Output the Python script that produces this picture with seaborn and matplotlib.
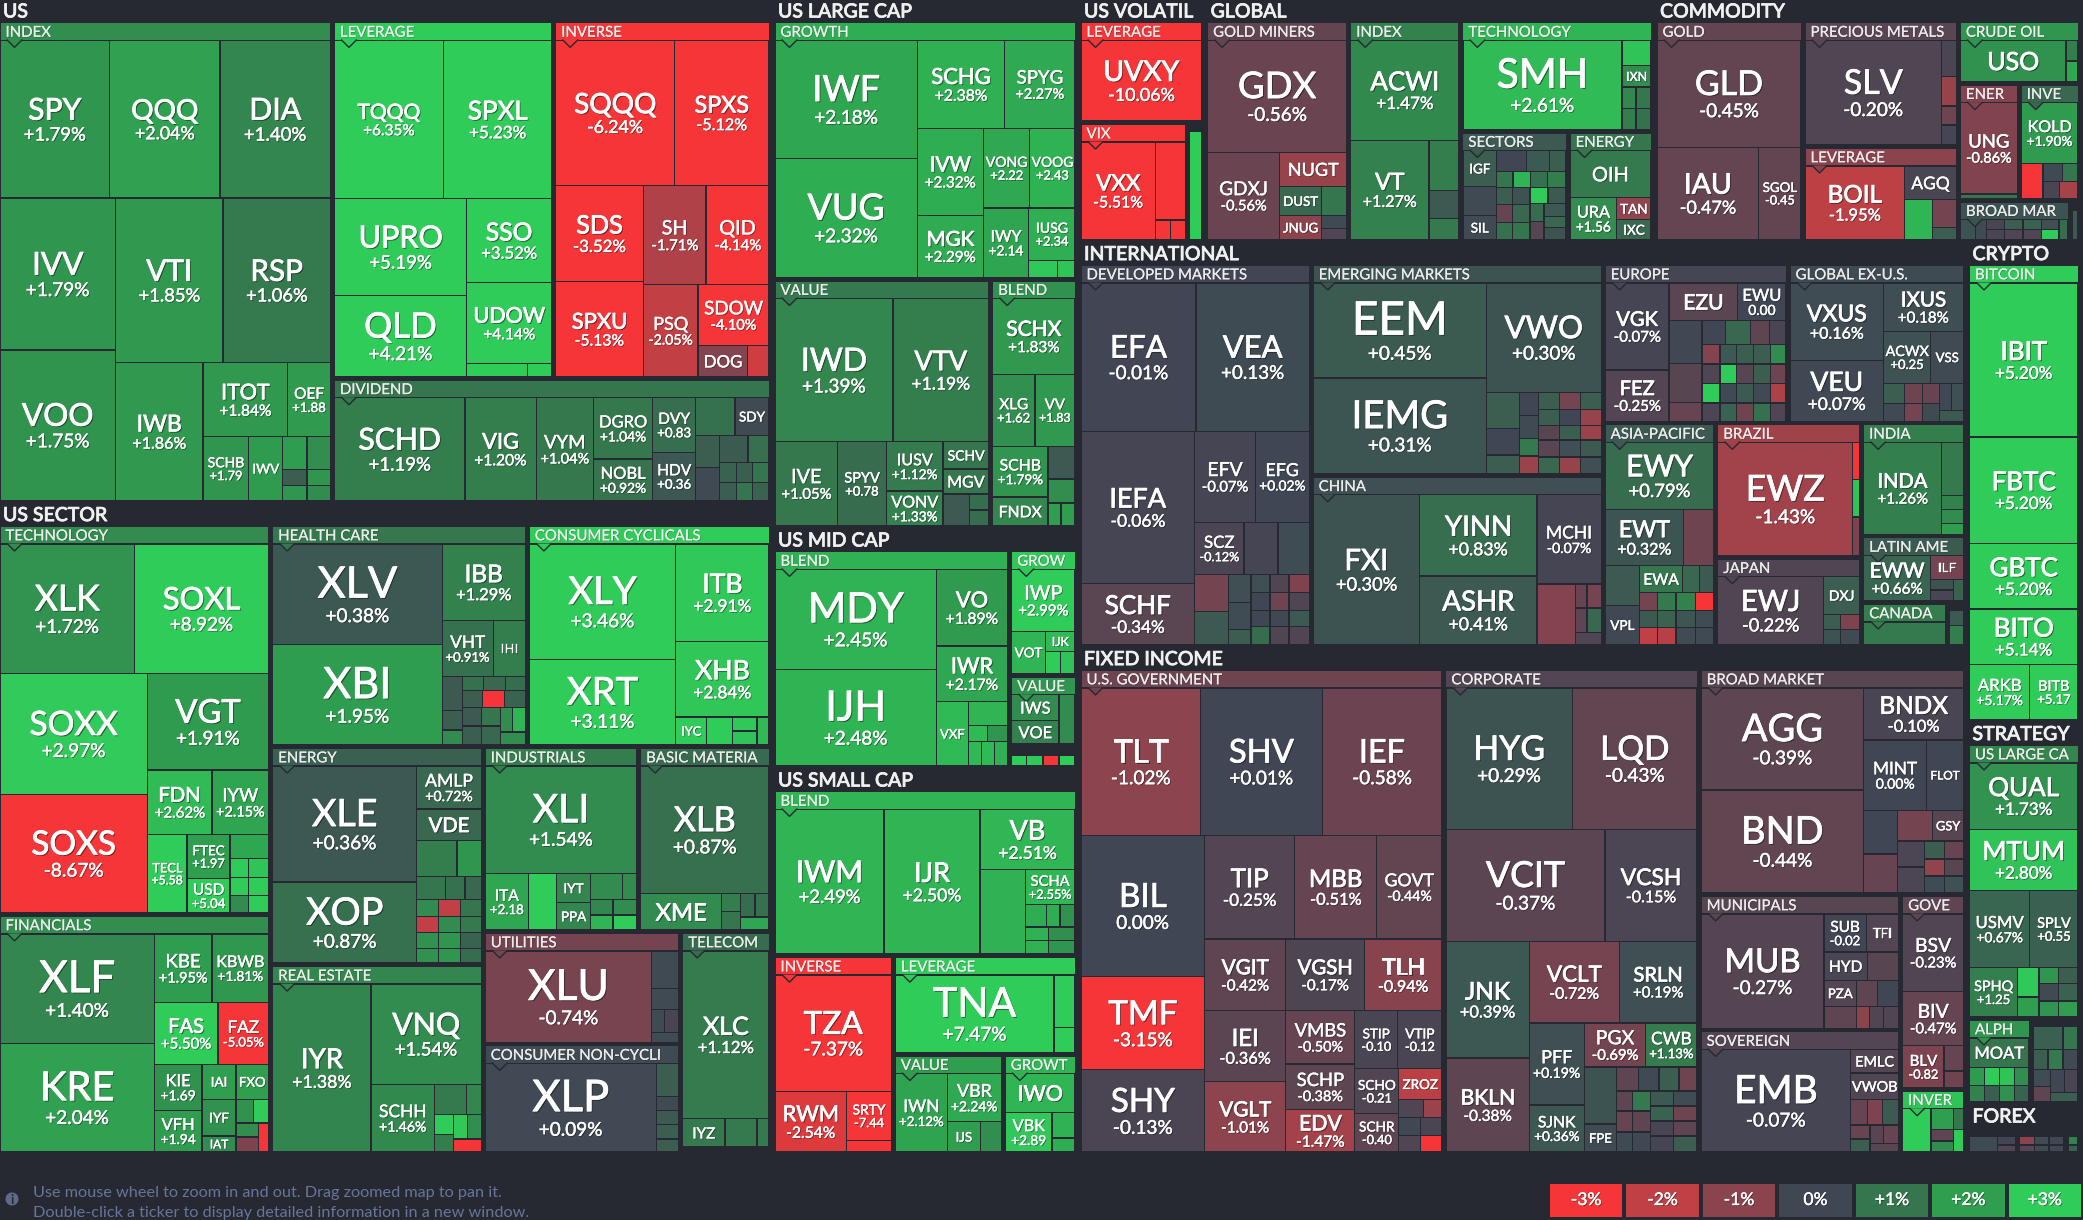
import numpy as np
import matplotlib
matplotlib.use("Agg")
import matplotlib.pyplot as plt
import matplotlib.patheffects as pe
from matplotlib.patches import Rectangle, Circle
import seaborn as sns


def H(size, *kids):
    return ("H", size, kids)


def V(size, *kids):
    return ("V", size, kids)


def G(size, title, avg, child):
    return ("G", size, title, avg, child)


def S(size, title, child):
    return ("S", size, title, child)


def cells(size, sizes, pcts):
    return H(size, *[("", s, p) for s, p in zip(sizes, pcts)])


LEGEND_VALUES = [-3, -2, -1, 0, 1, 2, 3]
LEGEND_LABELS = ["-3%", "-2%", "-1%", "0%", "+1%", "+2%", "+3%"]
LEGEND_COLORS = ["#f63538", "#bf4045", "#8b444e", "#414554", "#35764e", "#2f9e4f", "#30cc5a"]

# ---- US
US_INDEX = G(334, "INDEX", 1.6, V(0,
    H(158, ("SPY", 110, 1.79), ("QQQ", 111, 2.04), ("DIA", 111, 1.40)),
    H(303, V(116, ("IVV", 152, 1.79), ("VOO", 151, 1.75)),
        V(216, H(165, ("VTI", 108, 1.85), ("RSP", 108, 1.06)),
            H(138, ("IWB", 88, 1.86), V(128,
                H(74, ("ITOT", 85, 1.84), ("OEF", 43, 1.88)),
                H(64, ("SCHB", 46, 1.79), ("IWV", 34, 1.9), V(48,
                    cells(33, [24, 23], [1.95, 1.6]),
                    cells(16, [24, 23], [0.5, 1.8]),
                    cells(15, [24, 23], [1.8, 1.5])))))))))
US_LEVERAGE = G(221, "LEVERAGE", 3.5, V(0,
    H(158, ("TQQQ", 109, 6.35), ("SPXL", 108, 5.23)),
    H(178, V(132, ("UPRO", 97, 5.19), ("QLD", 81, 4.21)),
        V(85, ("SSO", 84, 3.52), ("UDOW", 81, 4.14), cells(13, [60, 24], [3.2, 3.1])))))
US_INVERSE = G(217, "INVERSE", -3.5, V(0,
    H(145, ("SQQQ", 118, -6.24), ("SPXS", 94, -5.12)),
    H(191, V(87, ("SDS", 96, -3.52), ("SPXU", 95, -5.13)),
        V(125, H(99, ("SH", 63, -1.71), ("QID", 63, -4.14)),
            H(92, ("PSQ", 55, -2.05), V(71, ("SDOW", 61, -4.10),
                H(31, ("DOG", 49, -0.9), ("", 21, -2.3))))))))
US_DIVIDEND = G(123, "DIVIDEND", 1.0, H(0,
    ("SCHD", 130, 1.19), ("VIG", 71, 1.20), ("VYM", 57, 1.04),
    V(59, ("DGRO", 62, 1.04), ("NOBL", 42, 0.92)),
    V(43, ("DVY", 55, 0.83), ("HDV", 49, 0.36)),
    V(73, H(38, ("", 39, 0.9), ("SDY", 34, 0.1)),
        H(66, V(24, ("", 32, 0.5), ("", 33, 0.1)),
            V(49, cells(27, [28, 21], [0.45, 0.85]),
                cells(20, [16, 16, 16], [0.6, 0.5, 1.0]),
                cells(18, [16, 16, 16], [0.5, 1.0, 0.6]))))))

# ---- US SECTOR
SEC_TECH = G(388, "TECHNOLOGY", 1.5, V(0,
    H(129, ("XLK", 135, 1.72), ("SOXL", 135, 8.92)),
    H(238, V(148, ("SOXX", 120, 2.97), ("SOXS", 118, -8.67)),
        V(122, ("VGT", 96, 1.91), H(64, ("FDN", 65, 2.62), ("IYW", 57, 2.15)),
            H(78, ("TECL", 40, 5.58), V(43, ("FTEC", 44, 1.97), ("USD", 34, 5.04)),
                V(39, ("", 24, 2.2), cells(19, [19, 20], [3.0, 2.8]),
                    cells(18, [19, 20], [3.5, 3.0]), cells(17, [19, 20], [1.5, 3.0])))))))
SEC_FIN = G(238, "FINANCIALS", 1.6, H(0,
    V(155, ("XLF", 110, 1.40), ("KRE", 109, 2.04)),
    V(115, H(69, ("KBE", 58, 1.95), ("KBWB", 57, 1.81)),
        H(62, ("FAS", 64, 5.50), ("FAZ", 51, -5.05)),
        H(88, V(48, ("KIE", 46, 1.69), ("VFH", 42, 1.94)),
            V(67, H(35, ("IAI", 34, 2.0), ("FXO", 33, 2.0)),
                H(53, V(34, ("IYF", 37, 1.7), ("IAT", 16, 1.5)),
                    V(33, cells(24, [18, 15], [1.7, 3.0]),
                        H(29, V(23, ("", 14, 1.6), ("", 15, -0.8)), ("", 10, -3.0)))))))))
SEC_HEALTH = G(256, "HEALTH CARE", 1.05, H(0,
    V(169, ("XLV", 100, 0.38), ("XBI", 100, 1.95)),
    V(83, ("IBB", 76, 1.29), H(55, ("VHT", 51, 0.91), ("IHI", 32, 1.2)),
        H(68, V(20, ("", 34, 0.4), ("", 19, 0.5), ("", 15, 1.5)),
            V(63, cells(14, [21, 22, 20], [0.9, 0.7, 0.8]),
                cells(17, [20, 22, 21], [0.5, -3.0, 0.6]),
                H(37, V(38, cells(18, [19, 19], [0.4, 1.0]), cells(19, [19, 19], [0.5, 0.7])),
                    V(25, cells(24, [12, 13], [1.5, 2.5]), ("", 13, 1.6))))))))
SEC_CONS = G(243, "CONSUMER CYCLICALS", 3.0, H(0,
    V(146, ("XLY", 115, 3.46), ("XRT", 85, 3.11)),
    V(93, ("ITB", 97, 2.91), ("XHB", 75, 2.84),
        H(28, ("IYC", 31, 3.0), ("", 26, 3.0), V(25, ("", 14, 2.9), ("", 14, 2.8)), ("", 12, 2.6)))))
SEC_ENERGY = G(217, "ENERGY", 0.55, H(0,
    V(145, ("XLE", 116, 0.36), ("XOP", 81, 0.87)),
    V(65, ("AMLP", 43, 0.72), ("VDE", 32, 0.7),
        cells(36, [40, 24], [1.2, 1.8]), cells(23, [28, 19, 16], [1.0, 0.9, 0.7]),
        cells(17, [22, 22, 21], [1.5, -2.0, 1.0]), cells(16, [22, 22, 21], [-2.0, 1.5, 1.1]),
        cells(16, [22, 22, 21], [1.7, 1.8, 0.6]), cells(15, [22, 22, 21], [1.7, 1.8, 0.8]))))
SEC_REAL = G(188, "REAL ESTATE", 1.4, H(0,
    ("IYR", 99, 1.38),
    V(111, ("VNQ", 99, 1.54), H(67, ("SCHH", 64, 1.46), V(47,
        cells(30, [32, 15], [1.1, 1.4]),
        H(37, V(19, ("", 20, 3.0), ("", 17, 1.2)),
            V(28, cells(24, [12, 12], [2.9, 1.6]), ("", 13, -3.0))))))))
SEC_INDUSTRIALS = G(155, "INDUSTRIALS", 1.2, V(0,
    ("XLI", 107, 1.54),
    H(56, ("ITA", 43, 2.18), ("", 28, 3.5),
        V(34, ("IYT", 29, 1.4), ("PPA", 27, 1.4)),
        V(46, cells(26, [32, 14], [1.5, 1.5]), cells(15, [22, 23], [1.4, 1.5]), cells(15, [22, 23], [2.5, 3.0])))))
SEC_BASIC = G(132, "BASIC MATERIA", 0.75, V(0,
    ("XLB", 127, 0.87),
    H(36, ("XME", 80, 1.5), V(19, ("", 18, 1.2), ("", 18, 1.0)),
        V(28, cells(23, [14, 14], [0.8, 0.9]), ("", 13, 2.2)))))
SEC_UTIL = G(112, "UTILITIES", -0.7, H(0,
    ("XLU", 165, -0.74),
    V(27, ("", 37, 0.1), ("", 21, 0.1), cells(23, [13, 14], [0.1, -0.1]), ("", 10, 0.15))))
SEC_NONCYC = G(109, "CONSUMER NON-CYCLI", 0.1, H(0,
    ("XLP", 168, 0.09),
    V(22, ("", 33, 0.5), ("", 14, 0.1), ("", 14, 0.4), ("", 15, 0.5), ("", 13, 0.5))))
SEC_TELECOM = G(90, "TELECOM", 0.8, V(0,
    ("XLC", 167, 1.12),
    H(28, ("IYZ", 42, 1.1), ("", 32, 1.1), ("", 12, 1.1)),
    ("", 5, None)))

# ---- LARGE / MID / SMALL CAP
LC_GROWTH = G(257.6, "GROWTH", 2.3, H(0,
    V(142, ("IWF", 118, 2.18), ("VUG", 119, 2.32)),
    V(157.6, H(88, ("SCHG", 87, 2.38), ("SPYG", 70, 2.27)),
        H(149, V(66, ("IVW", 87, 2.32), ("MGK", 62, 2.29)),
            V(91, H(79.5, ("VONG", 46, 2.22), ("VOOG", 45, 2.43)),
                H(69.5, ("IWY", 45, 2.14), V(46, ("IUSG", 52, 2.34), cells(17, [28, 17], [2.9, 2.8]))))))))
LC_VALUE = G(214.5, "VALUE", 1.1, V(0,
    H(143.5, ("IWD", 117, 1.39), ("VTV", 95, 1.19)),
    H(84.5, ("IVE", 62, 1.05), ("SPYV", 48, 0.78),
        V(56, ("IUSV", 49.5, 1.12), ("VONV", 35, 1.33)),
        V(45, ("SCHV", 27.5, 1.0), ("MGV", 25, 1.0),
            H(32, ("", 26, 0.4), V(19, ("", 16, 0.8), ("", 16, 0.8)))))))
LC_BLEND = G(85, "BLEND", 1.7, V(0,
    ("SCHX", 76, 1.83), H(72, ("XLG", 42, 1.62), ("VV", 40, 1.83)),
    H(80, V(55, ("SCHB", 51, 1.79), ("FNDX", 29, 1.4)),
        V(27, ("", 33, 0.4), ("", 24, 1.6), cells(23, [13, 14], [2.0, 2.0])))))
MC_BLEND = G(236, "BLEND", 2.4, H(0,
    V(160, ("MDY", 99, 2.45), ("IJH", 96, 2.48)),
    V(71, ("VO", 76, 1.89), ("IWR", 55, 2.17),
        H(64, ("VXF", 32, 2.6), V(39, ("", 24, 2.5),
            cells(16, [19, 20], [2.6, 1.8]), cells(24, [13, 13, 13], [2.6, 2.6, 2.4]))))))
MC_GROW = G(125, "GROW", 2.9, V(0,
    ("IWP", 61.6, 2.99),
    H(42.4, ("VOT", 34, 2.5), V(30, ("IJK", 20.4, 2.6), cells(22, [15, 15], [3.0, 2.8])))))
MC_VALUE = G(70, "VALUE", 1.8, H(0,
    V(47, ("IWS", 26, 1.5), ("VOE", 23.5, 1.3)), ("", 16, 1.5)))
MC_OTHER = G(22, None, 0, V(0, ("", 8, None), cells(12, [14, 15, 15, 15], [3.0, 2.9, -3.0, 3.0])))
SC_BLEND = G(165, "BLEND", 2.5, H(0,
    ("IWM", 109, 2.49), ("IJR", 96, 2.50),
    V(95, ("VB", 60, 2.51), H(84.5, ("", 45, 2.4), V(49,
        ("SCHA", 35, 2.55), cells(22.5, [21, 14, 15], [2.3, 2.3, 1.7]),
        cells(13.5, [23, 26], [2.4, 1.6]), cells(13.5, [23, 26], [2.4, 1.8]))))))
SC_INVERSE = G(120, "INVERSE", -5.0, V(0,
    ("TZA", 116, -7.37),
    H(60.6, ("RWM", 72, -2.54), V(45, ("SRTY", 49, -7.44), ("", 11.6, -4.0)))))
SC_LEVERAGE = G(98, "LEVERAGE", 6.0, H(0,
    ("TNA", 158, 7.47), V(21, ("", 54, 3.2), ("", 25.5, 3.0))))
SC_VALUE = G(109, "VALUE", 2.0, H(0,
    ("IWN", 52, 2.12), V(54, ("VBR", 47, 2.24), H(29.6, ("IJS", 33, 2.0), ("", 21, 1.6)))))
SC_GROWTH = G(73, "GROWT", 2.5, V(0,
    ("IWO", 38, 2.5), H(38.6, ("VBK", 47, 2.89), V(23, ("", 25, 2.4), ("", 13.6, 2.3)))))

# ---- VOLATILITY / GLOBAL / COMMODITY
VOL_LEV = G(102, "LEVERAGE", -8.0, ("UVXY", 1, -10.06))
VOL_VIX = G(106, "VIX", -5.0, H(0,
    ("VXX", 75, -5.51), V(30, ("", 76.5, -5.0), cells(19.2, [15, 15], [-5.0, -5.0]))))
VOL_BAR = G(16, None, 0, V(0, ("", 6, None), ("", 108, 3.0)))
GL_MINERS = G(143, "GOLD MINERS", -0.45, V(0,
    ("GDX", 111, -0.56),
    H(86.7, ("GDXJ", 72, -0.56), V(67, ("NUGT", 34, -1.2),
        H(29, ("DUST", 42, 0.7), ("", 25, 1.0)),
        H(23.7, ("JNUG", 42, -1.0), V(25, ("", 13, 0.1), ("", 11, -0.2)))))))
GL_INDEX = G(112, "INDEX", 1.3, V(0,
    ("ACWI", 99, 1.47),
    H(98.7, ("VT", 78, 1.27), V(30, ("", 50, 1.2), ("", 28, 0.4), ("", 21, 1.1)))))
GL_TECH = G(110, "TECHNOLOGY", 2.5, H(0,
    ("SMH", 158, 2.61),
    V(29, ("", 25, 2.8), ("IXN", 21, 1.5), cells(21, [14, 15], [1.4, 1.0]), cells(21, [14, 15], [1.2, 0.9]))))
GL_SECTORS = G(106, "SECTORS", 0.4, H(0,
    V(34, ("IGF", 36, 0.5), ("", 29, 0.1), ("SIL", 23.7, 0.1)),
    V(70, cells(21, [30, 23, 17], [0.0, 0.4, 0.5]),
        cells(16, [16, 17, 17, 18], [1.0, 2.5, 0.9, 1.2]),
        H(51.7, V(33, cells(17, [16, 17], [0.5, 0.3]), cells(18, [16, 17], [-0.5, 0.7]), cells(16.7, [16, 17], [0.9, 1.0])),
            V(36, cells(16, [18, 18], [3.0, 0.4]),
                H(35.7, V(14, ("", 18, 0.8), ("", 17.7, -0.3)),
                    V(22, ("", 13, 0.4), ("", 11, 0.7), ("", 11.7, 0.3))))))))
GL_ENERGY = G(84, "ENERGY", 1.0, V(0,
    ("OIH", 47, 1.1),
    H(41.7, ("URA", 45, 1.56), V(33, ("TAN", 22, -1.1), ("IXC", 19.7, 0.7)))))
CO_GOLD = G(148.5, "GOLD", -0.45, V(0,
    ("GLD", 106, -0.45), H(91.7, ("IAU", 101, -0.47), ("SGOL", 42, -0.45))))
CO_PM = G(126, "PRECIOUS METALS", -0.35, H(0,
    ("SLV", 137, -0.20),
    V(15, ("", 36, -0.1), ("", 30, -1.2), ("", 19, -0.6), ("", 20, -0.05))))
CO_LEV = G(95, "LEVERAGE", -1.0, H(0,
    ("BOIL", 100, -1.95),
    V(52, ("AGQ", 33, -0.1), H(38.7, ("", 28, 2.5), V(24, ("", 27, -0.7), ("", 11.7, 0.5))))))
CO_CRUDE = G(62.3, "CRUDE OIL", 1.8, H(0, ("USO", 105, 1.7), V(12, ("", 21, 1.2), ("", 21, 2.2))))
CO_ENER = G(60, "ENER", -0.9, V(0, ("UNG", 91.5, -0.86), ("", 4.5, 1.0)))
CO_INVE = G(60, "INVE", 0.7, V(0,
    ("KOLD", 61, 1.90),
    H(35, ("", 21, -3.0), V(34, cells(18, [19, 15], [0.1, 1.0]), cells(17, [16, 18], [-0.1, -1.5])))))
CO_BROAD = G(112, "BROAD MAR", 0.3, H(0,
    ("", 15, 0.3), ("", 11, 0.1),
    V(71, cells(9, [17, 18, 18, 17], [-0.1, 0.5, 0.6, 0.2]), cells(9, [17, 18, 18, 17], [-0.1, -0.2, -0.2, 3.0])),
    ("", 9, 0.8)))
CO_STRIP = G(10, None, 0, V(0, ("", 8, None), ("", 31, 0.4)))

# ---- INTERNATIONAL
IN_DEV = G(232, "DEVELOPED MARKETS", -0.02, V(0,
    H(148, ("EFA", 115, -0.01), ("VEA", 113, 0.13)),
    H(213, V(114, ("IEFA", 152, -0.06), ("SCHF", 61, -0.34)),
        V(115, H(91, ("EFV", 61, -0.07), ("EFG", 54, 0.02)),
            H(52, ("SCZ", 49, -0.12), ("", 34, -0.05), ("", 31, 0.15)),
            H(70, V(34, ("", 37, -0.7), ("", 33, 0.4)),
                V(22, ("", 28, 0.2), ("", 27, 0.15), ("", 15, 0.5)),
                V(58, cells(18, [19, 19, 20], [0.2, -0.2, -0.8]),
                    cells(18, [19, 19, 20], [0.0, -0.6, -0.2]),
                    cells(16, [19, 19, 20], [0.0, 0.05, 0.4]),
                    cells(18, [19, 19, 20], [0.8, -0.2, -0.2])))))))
IN_EM = G(212, "EMERGING MARKETS", 0.3, H(0,
    V(173, ("EEM", 94, 0.45), ("IEMG", 94.7, 0.31)),
    V(114.5, ("VWO", 108, 0.30),
        H(80.7, V(33, ("", 36, 0.5), ("", 26, 0.0), ("", 18.7, 0.5)),
            V(19, ("", 22, 0.0), ("", 22, 0.1), ("", 17, 1.1), ("", 17, -1.3)),
            V(62, cells(16, [19, 20, 19], [0.5, -0.7, 0.5]),
                cells(15, [19, 20, 19], [0.5, 0.0, -1.2]),
                cells(14, [19, 20, 19], [-0.3, 0.5, -1.3]),
                cells(16, [19, 20, 19], [-0.35, 0.2, 0.4]),
                cells(15.7, [19, 20, 19], [0.7, -1.2, 0.2]))))))
IN_CHINA = G(171, "CHINA", 0.2, H(0,
    ("FXI", 106, 0.30),
    V(117, ("YINN", 82, 0.83), ("ASHR", 69, 0.41)),
    V(64, ("MCHI", 90, -0.07),
        H(61, ("", 37, -0.9), V(25, cells(24, [11, 13], [-0.5, -0.7]), cells(25, [11, 13], [-0.4, 0.7]), ("", 12, -0.2))))))
IN_EUROPE = G(184.5, "EUROPE", -0.05, H(0,
    V(64, ("VGK", 86.7, -0.07), ("FEZ", 51, -0.25)),
    V(117, H(37.5, ("EZU", 68, -0.35), ("EWU", 48, 0.00)),
        H(100.2, V(33, ("", 42.5, 0.05), ("", 39, -0.3), ("", 18.7, -0.5)),
            V(84, cells(23.5, [23, 24, 19, 16], [0.0, 0.7, -0.4, -0.1]),
                cells(19, [17, 16, 16, 16, 15], [-0.9, 0.4, 0.5, 0.5, 1.5]),
                cells(19, [17, 16, 16, 16, 15], [-0.2, 3.0, -0.3, 0.5, -0.6]),
                cells(19, [17, 16, 16, 16, 15], [3.0, 0.1, 0.4, 0.1, -1.6]),
                cells(18, [17, 16, 16, 16, 15], [-0.15, 0.6, -0.6, 0.9, -0.2]))))))
IN_GLOBAL = G(177, "GLOBAL EX-U.S.", 0.12, H(0,
    V(93, ("VXUS", 77, 0.16), ("VEU", 60.7, 0.07)),
    V(80, ("IXUS", 48, 0.18), H(52, ("ACWX", 48, 0.25), ("VSS", 33, 0.1)),
        H(37.7, V(21, ("", 20, 0.5), ("", 17.7, 0.1)), V(18, ("", 20, -0.6), ("", 17.7, -0.7)),
            V(17, ("", 20, -0.5), ("", 17.7, 0.1)),
            V(24, cells(27, [12, 12], [0.05, 0.2]), ("", 10.7, 0.4))))))
IN_ASIA = G(112.3, "ASIA-PACIFIC", 0.4, V(0,
    ("EWY", 67, 0.79),
    H(56, ("EWT", 78, 0.32), ("", 30, -0.6)),
    H(79, V(34, ("", 40, 0.4), ("VPL", 39, 0.05)),
        V(74, H(27, ("EWA", 43, 1.0), ("", 17, 0.7), ("", 14, 0.4)),
            cells(18, [18, 18, 19, 18], [-0.7, 1.1, 1.3, -3.0]),
            cells(17, [18, 18, 19, 18], [0.4, 0.6, 0.35, 0.15]),
            cells(17, [18, 18, 19, 18], [-2.0, -1.8, 0.15, 0.1])))))
IN_BRAZIL = G(133, "BRAZIL", -1.4, H(0,
    ("EWZ", 134, -1.43), V(7, ("", 37, -3.0), ("", 38, 2.8), ("", 38.7, -0.8))))
IN_JAPAN = G(88, "JAPAN", -0.2, H(0,
    ("EWJ", 105, -0.22),
    V(36, ("DXJ", 37, 0.5), cells(15, [17, 19], [0.5, -0.8]), cells(15, [17, 19], [0.3, 0.1]))))
IN_INDIA = G(114, "INDIA", 1.2, H(0,
    ("INDA", 78, 1.26), V(22, ("", 54, 1.1), ("", 14, 1.3), ("", 14, 1.5), ("", 11, 2.0))))
IN_LATIN = G(67, "LATIN AME", 0.45, H(0,
    ("EWW", 67, 0.66),
    V(33, ("ILF", 24, -0.7), H(22, V(22, ("", 11, 0.3), ("", 11, -0.1)), ("", 10, 0.6)))))
IN_CANADA = G(85, "CANADA", 1.2, ("", 1, 1.1))
IN_OTHER = G(18, None, 0, V(0, ("", 5, None), ("", 15, 0.4), ("", 18, 1.2)))

# ---- FIXED INCOME
FI_GOV = G(363, "U.S. GOVERNMENT", -0.6, V(0,
    H(147, ("TLT", 120, -1.02), ("SHV", 122, 0.01), ("IEF", 120, -0.58)),
    H(316, V(124, ("BIL", 141, 0.00), ("TMF", 93, -3.15), ("SHY", 82, -0.13)),
        V(238, H(103.5, ("TIP", 90, -0.25), ("MBB", 82, -0.51), ("GOVT", 65, -0.44)),
            H(71.5, ("VGIT", 81, -0.42), ("VGSH", 79, -0.17), ("TLH", 77, -0.94)),
            H(141, V(81, ("IEI", 71, -0.36), ("VGLT", 70, -1.01)),
                V(69, ("VMBS", 53, -0.50), ("SCHP", 45.5, -0.38), ("EDV", 42, -1.47)),
                V(87, H(58, ("STIP", 43, -0.10), ("VTIP", 44, -0.12)),
                    H(83, V(44, ("SCHO", 44.5, -0.21), ("SCHR", 38, -0.40)),
                        V(43, ("ZROZ", 30.5, -1.9),
                            cells(18, [24, 18], [-0.2, -1.3]),
                            cells(18, [21, 21], [0.05, -0.1]),
                            cells(16.2, [21, 21], [-0.2, -3.0])))))))))
FI_CORP = G(254, "CORPORATE", -0.25, V(0,
    H(141, ("HYG", 126, 0.29), ("LQD", 124, -0.43)),
    H(111.5, ("VCIT", 159, -0.37), ("VCSH", 92, -0.15)),
    H(210, V(83, ("JNK", 117, 0.39), ("BKLN", 94, -0.38)),
        V(167, H(81.5, ("VCLT", 90, -0.72), ("SRLN", 78, 0.19)),
            H(128.7, V(55, ("PFF", 82, 0.19), ("SJNK", 47, 0.36)),
                V(113, H(44, ("PGX", 61, -0.69), ("CWB", 51, 1.13)),
                    H(85, V(32, ("", 57, 0.3), ("FPE", 28, 0.1)),
                        V(80, cells(24, [21, 19, 19, 17], [-0.4, 0.1, 0.5, -0.6]),
                            H(61, V(33, cells(20, [16, 17], [-0.4, 1.1]), cells(21, [16, 17], [-0.5, -0.4]), cells(20, [16, 17], [0.1, 0.05])),
                                V(46, cells(15, [22, 22], [0.4, 0.15]), cells(15, [22, 22], [0.6, -0.6]),
                                    cells(15, [22, 22], [-0.1, -0.4]), cells(16, [22, 22], [-0.05, 0.5])))))))))))
FI_BROAD = G(225, "BROAD MARKET", -0.3, H(0,
    V(163, ("AGG", 102, -0.39), ("BND", 103, -0.44)),
    V(100, ("BNDX", 52, -0.10),
        H(70.5, ("MINT", 63, 0.00), ("FLOT", 37, 0.0)),
        H(82.5, V(34, ("", 43.5, 0.0), ("", 39, -0.5)),
            V(66, H(30.5, ("", 35, -0.7), ("GSY", 31, -0.3)),
                H(52, V(27, ("", 26, -0.15), ("", 26, -0.15)),
                    V(39, cells(18, [20, 19], [0.5, -0.5]), cells(17, [20, 19], [-1.1, -0.3]), cells(17, [20, 19], [0.15, 0.25]))))))))
FI_MUNI = G(135, "MUNICIPALS", -0.3, H(0,
    ("MUB", 123, -0.27),
    V(75, H(38, ("SUB", 42, -0.02), ("TFI", 32, -0.25)),
        H(28, ("HYD", 43, -0.1), ("", 31, -0.3)),
        H(26, ("PZA", 33, -0.25), ("", 21, -0.4), ("", 21, 0.0)),
        cells(22, [33, 13, 14, 15], [-0.4, -1.0, -0.2, -0.2]))))
FI_SOV = G(123, "SOVEREIGN", -0.25, H(0,
    ("EMB", 149, -0.07),
    V(48, ("EMLC", 23.3, -0.25), ("VWOB", 26, -0.2),
        cells(25, [17, 15, 16], [-0.5, -0.8, 0.4]),
        H(26.7, V(19, ("", 16, -0.5), ("", 15, 0.5)),
            V(28, cells(21, [13, 14], [-0.3, -0.5]), ("", 10, -0.3))))))
FI_GOVE = G(194, "GOVE", -0.4, V(0,
    ("BSV", 77, -0.23), ("BIV", 54, -0.47),
    H(41.7, ("BLV", 42, -0.82), V(20, ("", 25, -0.5), ("", 16.7, -0.6)))))
FI_INVER = G(64, "INVER", 2.8, H(0,
    ("", 29, 3.2),
    V(33, cells(20, [22, 10], [2.0, 1.0]),
        H(21, V(22, ("", 10, -0.4), ("", 10, 1.5)), ("", 10, 3.0)))))

# ---- CRYPTO / STRATEGY / FOREX
CR_BITCOIN = G(1, "BITCOIN", 5.2, V(0,
    ("IBIT", 153, 5.20), ("FBTC", 106, 5.20), ("GBTC", 65, 5.20), ("BITO", 55, 5.14),
    H(55, ("ARKB", 60, 5.17), ("BITB", 48, 5.17))))
ST_LARGE = G(274.7, "US LARGE CA", 1.4, V(0,
    ("QUAL", 66, 1.73), ("MTUM", 61, 2.80),
    H(77, ("USMV", 60, 0.67), ("SPLV", 48, 0.55)),
    H(49, ("SPHQ", 47, 1.25),
        V(21, ("", 29, 2.9), ("", 20, 2.0)),
        V(38, cells(16, [19, 19], [1.8, 0.5]), cells(17, [19, 19], [0.1, 0.6]), cells(16, [19, 19], [1.8, 2.0])))))
ST_ALPHA = G(61, "ALPH", 1.8, V(0,
    ("MOAT", 29, 0.95),
    cells(18, [15, 15, 15, 15], [1.9, 3.0, 2.8, 1.6]),
    cells(16, [15, 15, 15, 15], [1.3, 0.5, 1.7, 0.6])))
ST_OTHER = G(47, None, 0, V(0,
    ("", 5, None),
    cells(23, [28, 14], [0.55, 1.0]),
    cells(20, [14, 14, 14], [0.5, 1.1, 0.1]),
    H(32, V(17, ("", 16, 0.15), ("", 15, -0.4)),
        V(26, cells(22, [12, 12], [0.0, -0.1]), ("", 9, 0.5)))))
FX_A = G(46, None, 0, V(0, ("", 8, None), H(17,
    ("", 27, 0.1), V(17, ("", 8, 0.0), ("", 6, -0.2)))))
FX_B = G(45, None, 0, V(0, ("", 8, None), H(17,
    V(14, ("", 8, -1.0), ("", 6, -0.3)), V(14, ("", 8, 0.15), ("", 6, 0.1)), V(14, ("", 8, 0.0), ("", 6, 0.0)))))
FX_C = G(13, None, 0, V(0, ("", 8, None), V(17, ("", 8, 1.3), ("", 6, 0.5))))

SECTION_US = S(503.6, "US", H(0, US_INDEX, V(438, H(355, US_LEVERAGE, US_INVERSE), US_DIVIDEND)))
SECTION_SECTOR = S(651.4, "US SECTOR", H(0,
    V(272, SEC_TECH, SEC_FIN),
    V(499, H(221, SEC_HEALTH, SEC_CONS),
        H(405, V(212, SEC_ENERGY, SEC_REAL),
            V(287, H(184, SEC_INDUSTRIALS, SEC_BASIC),
                H(221, V(197, SEC_UTIL, SEC_NONCYC), SEC_TELECOM))))))
SECTION_LARGE = S(529, "US LARGE CAP", V(0, LC_GROWTH, H(248, LC_VALUE, LC_BLEND)))
SECTION_MID = S(240, "US MID CAP", H(0, MC_BLEND, V(67, MC_GROW, MC_VALUE, MC_OTHER)))
SECTION_SMALL = S(386, "US SMALL CAP", V(0, SC_BLEND,
    H(197, SC_INVERSE, V(183, SC_LEVERAGE, H(99, SC_VALUE, SC_GROWTH)))))
SECTION_VOL = S(126.5, "US VOLATIL", V(0, VOL_LEV, H(119, VOL_VIX, VOL_BAR)))
SECTION_GLOBAL = S(449, "GLOBAL", H(0, GL_MINERS, GL_INDEX,
    V(192, GL_TECH, H(110, GL_SECTORS, GL_ENERGY))))
SECTION_COMMODITY = S(426.5, "COMMODITY", H(0, CO_GOLD,
    V(156, CO_PM, CO_LEV),
    V(122, CO_CRUDE, H(117, CO_ENER, CO_INVE), H(41, CO_BROAD, CO_STRIP))))
SECTION_INTL = S(405, "INTERNATIONAL", H(0, IN_DEV,
    V(291.7, IN_EM, IN_CHINA),
    V(362, H(159.5, IN_EUROPE, IN_GLOBAL),
        H(223.5, IN_ASIA, V(145.5, IN_BRAZIL, IN_JAPAN),
            V(103.5, IN_INDIA, IN_LATIN, H(44, IN_CANADA, IN_OTHER))))))
SECTION_FIXED = S(507.4, "FIXED INCOME", H(0, FI_GOV, FI_CORP,
    V(265, FI_BROAD, H(258, V(199, FI_MUNI, FI_SOV), V(64, FI_GOVE, FI_INVER)))))
SECTION_CRYPTO = S(480, "CRYPTO", CR_BITCOIN)
SECTION_STRATEGY = S(382.4, "STRATEGY", V(0, ST_LARGE, H(85, ST_ALPHA, ST_OTHER)))
SECTION_FOREX = S(50, "FOREX", H(0, FX_A, FX_B, FX_C))

MARKET = H(0,
    V(775, SECTION_US, SECTION_SECTOR),
    V(306, SECTION_LARGE, SECTION_MID, SECTION_SMALL),
    V(1003, H(242.6, SECTION_VOL, SECTION_GLOBAL, SECTION_COMMODITY),
        H(912.4, V(888.5, SECTION_INTL, SECTION_FIXED),
            V(114.5, SECTION_CRYPTO, SECTION_STRATEGY, SECTION_FOREX))))

# Tickers drawn without a change figure
TICKER_ONLY = {"IWV", "DOG", "SDY", "IHI", "IYC", "VDE", "XME", "IYT", "VIS", "PPA", "IYZ", "FXO",
               "IAI", "IYF", "IAT", "SCHV", "MGV", "FNDX", "VOT", "IJK", "VXF", "IWS", "VOE", "IJS",
               "IWO", "NUGT", "DUST", "JNUG", "SIL", "IGF", "IXN", "TAN", "IXC", "OIH", "USO", "AGQ",
               "VSS", "EZU", "DXJ", "EWA", "VPL", "ILF", "FPE", "FLOT", "GSY", "HYD", "TFI", "PZA",
               "EMLC", "VWOB", "MOAT", "ZROZ"}
FONT_PX = {"TQQQ": 21, "USO": 25, "OIH": 20, "XLF": 44, "QQQ": 28, "IWB": 23, "SCHF": 26,
           "AGG": 38, "BND": 38, "GLD": 34, "SLV": 34, "EEM": 46, "IWF": 36, "VUG": 36}

BG = "#262931"
sns.set_theme(style="dark", rc={"figure.facecolor": BG, "axes.facecolor": BG, "savefig.facecolor": BG})
plt.rcParams["font.family"] = ["Lato", "DejaVu Sans"]
cmap = sns.blend_palette(LEGEND_COLORS, n_colors=256, as_cmap=True)


def colour(p):
    return cmap((np.clip(p, -3, 3) + 3) / 6)


fig = plt.figure(figsize=(20.83, 12.2), dpi=100)
ax = fig.add_axes([0, 0, 1, 1])
ax.set_xlim(0, 2083)
ax.set_ylim(1220, 0)
ax.axis("off")
PX = 0.72


def heavy(stroke, off, alpha, col="white"):
    return [pe.SimplePatchShadow(offset=(off, -off), shadow_rgbFace="#101010", alpha=alpha),
            pe.Stroke(linewidth=stroke, foreground=col), pe.Normal()]


BIG = heavy(0.55, 0.9, 0.55)
SMALL = heavy(0.3, 0.7, 0.5)
TITLE = heavy(0.55, 0.6, 0.45, "#f0f0f0")
HEAD = heavy(0.12, 0.5, 0.35, "#ececec")


def pct_text(p, w):
    s = "0.00" if round(p, 2) == 0 else f"{p:+.2f}"
    return s if w < 49 else s + "%"


def draw_leaf(node, x0, y0, x1, y1):
    name, _, p = node
    if p is None:
        return
    ax.add_patch(Rectangle((x0 + 0.65, y0 + 0.65), x1 - x0 - 1.3, y1 - y0 - 1.3, fc=colour(p), ec="none", zorder=1))
    if not name:
        return
    w, h = x1 - x0, y1 - y0
    n = len(name)
    f = 6 + 0.22 * w
    if n >= 4:
        f *= 0.87
    f = min(f, 0.85 * w / (0.66 * n))
    f = FONT_PX.get(name, f)
    cx, cy = (x0 + x1) / 2, (y0 + y1) / 2
    eff = BIG if f > 20 else SMALL
    if name in TICKER_ONLY:
        f = min(f, 0.75 * h)
        ax.text(cx, cy + 0.36 * f, name, ha="center", va="baseline", color="white", fontsize=f * PX,
                zorder=3, path_effects=eff)
        return
    txt = pct_text(p, w)
    pf = min(19, 8 + 0.35 * f, 0.8 * w / (0.52 * len(txt)))
    total = 0.97 * f + 0.72 * pf
    if total > 0.82 * h:
        k = 0.82 * h / total
        f, pf, total = f * k, pf * k, total * k
    top = cy - total / 2
    ax.text(cx, top + 0.72 * f, name, ha="center", va="baseline", color="white", fontsize=f * PX,
            zorder=3, path_effects=eff)
    ax.text(cx, top + total, txt, ha="center", va="baseline", color="white", fontsize=pf * PX,
            zorder=3, path_effects=SMALL)


def layout(node, x0, y0, x1, y1):
    kind = node[0]
    if kind in ("H", "V"):
        kids = node[2]
        sizes = np.array([k[1] for k in kids], dtype=float)
        cuts = np.concatenate([[0], np.cumsum(sizes) / sizes.sum()])
        for k, a, b in zip(kids, cuts[:-1], cuts[1:]):
            if kind == "H":
                layout(k, x0 + a * (x1 - x0), y0, x0 + b * (x1 - x0), y1)
            else:
                layout(k, x0, y0 + a * (y1 - y0), x1, y0 + b * (y1 - y0))
    elif kind == "S":
        ax.text(x0 + 6, y0 + 17.5, node[2], ha="left", va="baseline", color="#f0f0f0", fontsize=19.5 * PX,
                fontweight="medium", zorder=3, path_effects=TITLE)
        layout(node[3], x0 + 1, y0 + 21.4, x1 - 1, y1 - 1)
    elif kind == "G":
        title, avg, child = node[2], node[3], node[4]
        gx0, gy0, gx1, gy1 = x0 + 2, y0 + 2, x1 - 2, y1 - 2
        if title is None:
            layout(child, gx0, gy0, gx1, gy1)
            return
        hc = colour(avg)
        ax.add_patch(Rectangle((gx0 + 0.5, gy0), gx1 - gx0 - 1, 16.2, fc=hc, ec="none", zorder=1))
        layout(child, gx0, gy0 + 17, gx1, gy1)
        ax.text(gx0 + 5.5, gy0 + 13.3, title, ha="left", va="baseline", color="#ececec", fontsize=15 * PX,
                zorder=3, path_effects=HEAD)
        tx = gx0 + 7
        ty = gy0 + 16.5
        xs = [tx, tx + 7.5, tx + 15]
        ys = [ty, ty + 7.5, ty]
        ax.fill(xs, ys, fc=hc, ec="none", zorder=2)
        ax.plot(xs, ys, color=BG, lw=1.0, zorder=2.5, solid_joinstyle="miter")
    else:
        draw_leaf(node, x0, y0, x1, y1)


layout(MARKET, -3, 0, 2081, 1155)

# footer
ax.add_patch(Circle((12, 1199), 6.5, fc="#5e6b88", ec="none", zorder=2))
ax.text(12, 1203.5, "i", ha="center", va="baseline", color=BG, fontsize=13 * PX, fontweight="bold", zorder=3)
HELP = ["Use mouse wheel to zoom in and out. Drag zoomed map to pan it.",
        "Double-click a ticker to display detailed information in a new window."]
for y, line in zip([1196.5, 1216.5], HELP):
    ax.text(33, y, line, ha="left", va="baseline", color="#67759a", fontsize=16.3 * PX)

# legend
lax = fig.add_axes([1548 / 2083, 1 - 1218.5 / 1220, 535 / 2083, 37 / 1220])
sns.heatmap(np.array([LEGEND_VALUES], dtype=float), vmin=-3, vmax=3, cmap=cmap, cbar=False,
            annot=np.array([LEGEND_LABELS]), fmt="", linewidths=1.5, linecolor=BG,
            xticklabels=False, yticklabels=False, square=False, ax=lax,
            annot_kws={"color": "white", "fontsize": 17.5 * PX, "path_effects": SMALL})

fig.savefig("out.png", dpi=100, facecolor=BG)
